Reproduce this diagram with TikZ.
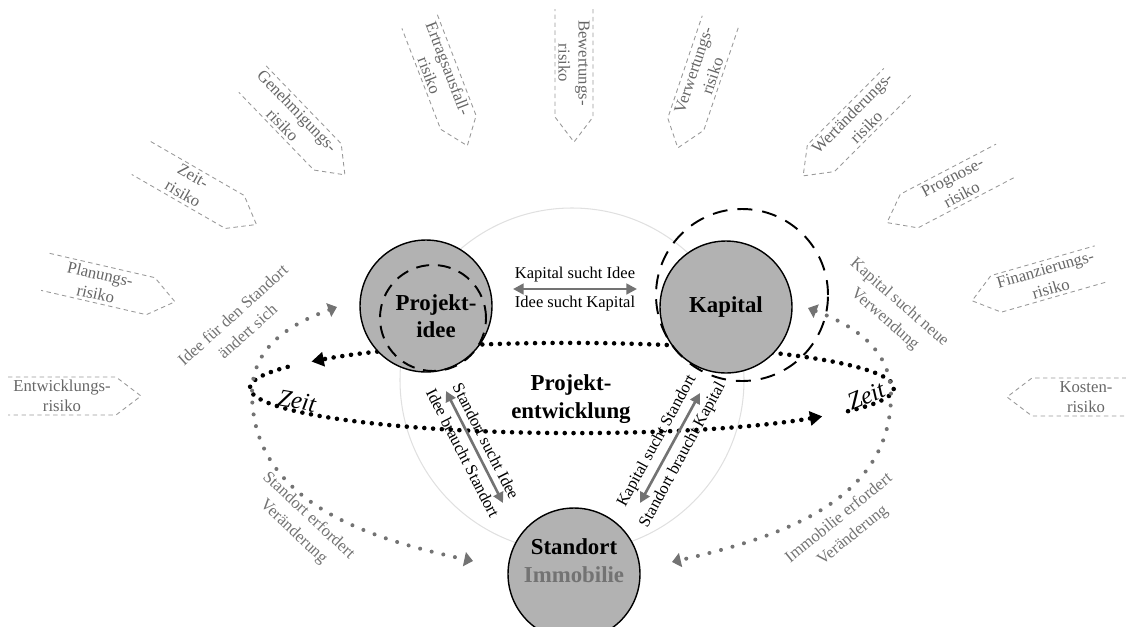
\documentclass[tikz,border=0pt]{standalone}
\usepackage{fontspec}
\setmainfont{Liberation Serif}
\usetikzlibrary{arrows.meta}

\begin{document}
\begin{tikzpicture}[x=0.02cm,y=0.02cm,
    core/.style={circle,draw=black,line width=0.8pt,fill=black!30,minimum size=2.64cm,inner sep=0pt},
    coretext/.style={font=\fontsize{13}{15.5}\selectfont\bfseries,align=center},
    pairtext/.style={font=\fontsize{9.4}{11}\selectfont},
    risktext/.style={font=\fontsize{9.5}{11.5}\selectfont,text=black!60,align=center},
    riskline/.style={draw=black!40,line width=0.5pt,dash pattern=on 2.5pt off 2pt},
    changetext/.style={font=\fontsize{9.5}{12.5}\selectfont,text=black!55,align=center},
    zeittext/.style={font=\fontsize{14}{16}\selectfont\itshape},
    zeitline/.style={line width=2.6pt,line cap=round,dash pattern=on 0pt off 5pt,
        -{Triangle[length=7pt,width=8pt]}},
    changeline/.style={black!55,line width=2.3pt,line cap=round,dash pattern=on 0pt off 6.8pt,
        {Triangle[length=5pt,width=8pt]}-{Triangle[length=5pt,width=8pt]}},
    pairarrow/.style={black!55,line width=1.5pt,
        {Triangle[length=6pt,width=6pt]}-{Triangle[length=6pt,width=6pt]}},
    ringline/.style={line width=1.1pt,dash pattern=on 7.4pt off 5pt}]

    \useasboundingbox (0,0) rectangle (1126,-626);

    % faint circle behind the three cores
    \draw[black!12,line width=0.6pt] (572,-380) circle (172);

    % Zeit: dotted ellipse in two pieces
    \coordinate (zeitmid) at (572,-388);
    \draw[zeitline] ([shift={(152:322 and 45)}]zeitmid) arc[start angle=152,end angle=321,x radius=322,y radius=45];
    \draw[zeitline] ([shift={(329:322 and 45)}]zeitmid) arc[start angle=329,end angle=504,x radius=322,y radius=45];

    % outer change loops
    \coordinate (ideein) at (337,-307);
    \coordinate (leftend) at (252,-393);
    \coordinate (standortl) at (473,-561);
    \coordinate (kapitalin) at (808,-308);
    \coordinate (rightend) at (891,-395);
    \coordinate (standortr) at (672,-562);
    \draw[changeline] (ideein) to[out=200,in=90] (leftend) to[out=270,in=168] (standortl);
    \draw[changeline] (kapitalin) to[out=339,in=90] (rightend) to[out=270,in=13] (standortr);

    % the three cores
    \node[core] (idee) at (426,-306) {};
    \node[core,coretext] (kapital) at (726,-307) {Kapital};
    \node[core] (standort) at (574,-574) {};
    \draw[ringline] (433,-318) circle (53);
    \draw[ringline,dash pattern=on 8.5pt off 5.7pt] (742,-295) circle (86);

    \node[coretext] (ideetext) at (436,-316) {Projekt-\\idee};
    \node[coretext,font=\fontsize{13}{16}\selectfont\bfseries] (standorttext) at (574,-561)
        {Standort\\\textcolor{black!55}{Immobilie}};
    \node[coretext,font=\fontsize{13}{16}\selectfont\bfseries] (pe) at (571,-399) {Projekt-\\entwicklung};

    % pair arrows
    \coordinate (ik-a) at (513,-289);
    \coordinate (ik-b) at (637,-289);
    \draw[pairarrow] (ik-a) -- node[pairtext,above,black] (ksi) {Kapital sucht Idee}
        node[pairtext,below,black] (isk) {Idee sucht Kapital} (ik-b);
    \coordinate (is-a) at (446,-391);
    \coordinate (is-b) at (503,-503);
    \draw[pairarrow] (is-a) -- node[pairtext,sloped,above,black] (ssi) {Standort sucht Idee}
        node[pairtext,sloped,below,black] (ibs) {Idee braucht Standort} (is-b);
    \coordinate (ks-a) at (640,-503);
    \coordinate (ks-b) at (700,-393);
    \draw[pairarrow] (ks-a) -- node[pairtext,sloped,above,black] (kss) {Kapital sucht Standort}
        node[pairtext,sloped,below,black] (sbk) {Standort braucht Kapital} (ks-b);

    % labels on the loops
    \node[zeittext,rotate=-10] (zeitl) at (297,-401) {Zeit};
    \node[zeittext,rotate=23] (zeitr) at (866,-396) {Zeit};
    \node[changetext,rotate=42] (ideechange) at (240,-323) {Idee für den Standort\\ändert sich};
    \node[changetext,rotate=-43] (standortchange) at (301,-524) {Standort erfordert\\Veränderung};
    \node[changetext,rotate=-41] (kapitalchange) at (892,-311) {Kapital sucht neue\\Verwendung};
    \node[changetext,rotate=39] (immochange) at (846,-527) {Immobilie erfordert\\Veränderung};

    % risk arrows around the top
    \foreach \rx/\ry/\ra/\rt/\rn/\rtext in {
        62/-396/0/0/rentw/{Entwicklungs-\\risiko},
        98/-284/-13/-13/rplan/{Planungs-\\risiko},
        188/-185/-30/-30/rzeit/{Zeit-\\risiko},
        290/-118/-46/-46/rgen/{Genehmigungs-\\risiko},
        439/-72/-69/-69/rertrag/{Ertragsausfall-\\risiko},
        574/-63/-90/-90/rbew/{Bewertungs-\\risiko},
        703/-73/-108.6/71.4/rverw/{Verwertungs-\\risiko},
        859/-120/-135/45/rwert/{Wertänderungs-\\risiko},
        957/-186/-152.4/27.6/rprog/{Prognose-\\risiko},
        1048/-279/-164/16/rfin/{Finanzierungs-\\risiko},
        1086/-397/180/0/rkost/{Kosten-\\risiko}}
    {
        \begin{scope}[shift={(\rx,\ry)},rotate=\ra]
            \draw[riskline] (-54,19) -- (54,19) -- (79,0) -- (54,-19) -- (-54,-19);
        \end{scope}
        \node[risktext,rotate=\rt] (\rn) at (\rx,\ry) {\rtext};
    }

\end{tikzpicture}
\end{document}
